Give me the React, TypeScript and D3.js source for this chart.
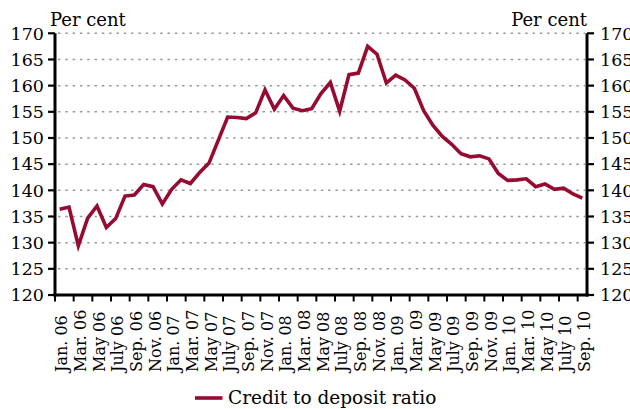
import React from "react";
import * as d3 from "d3";

// Monthly credit-to-deposit ratio, Jan. 2006 – Sep. 2010 (per cent)
const months: string[] = [
  "Jan. 06", "Feb. 06", "Mar. 06", "Apr. 06", "May 06", "June 06", "July 06", "Aug. 06", "Sep. 06", "Oct. 06", "Nov. 06", "Dec. 06",
  "Jan. 07", "Feb. 07", "Mar. 07", "Apr. 07", "May 07", "June 07", "July 07", "Aug. 07", "Sep. 07", "Oct. 07", "Nov. 07", "Dec. 07",
  "Jan. 08", "Feb. 08", "Mar. 08", "Apr. 08", "May 08", "June 08", "July 08", "Aug. 08", "Sep. 08", "Oct. 08", "Nov. 08", "Dec. 08",
  "Jan. 09", "Feb. 09", "Mar. 09", "Apr. 09", "May 09", "June 09", "July 09", "Aug. 09", "Sep. 09", "Oct. 09", "Nov. 09", "Dec. 09",
  "Jan. 10", "Feb. 10", "Mar. 10", "Apr. 10", "May 10", "June 10", "July 10", "Aug. 10", "Sep. 10",
];

const creditToDeposit: number[] = [
  136.4, 136.8, 129.4, 134.7, 137.0, 132.9, 134.6, 138.9, 139.1, 141.1, 140.7, 137.4,
  140.2, 142.0, 141.3, 143.4, 145.2, 149.6, 154.0, 153.9, 153.7, 154.8, 159.2, 155.5,
  158.1, 155.7, 155.2, 155.6, 158.5, 160.6, 155.1, 162.1, 162.4, 167.5, 166.0, 160.5,
  162.0, 161.1, 159.5, 155.2, 152.4, 150.3, 148.8, 147.0, 146.4, 146.6, 146.0, 143.2,
  141.9, 142.0, 142.2, 140.7, 141.2, 140.2, 140.4, 139.3, 138.5,
];

const yTicks: number[] = [120, 125, 130, 135, 140, 145, 150, 155, 160, 165, 170];
const unitLabel = "Per cent";
const seriesName = "Credit to deposit ratio";

const W = 630;
const H = 409;
const FONT = "'DejaVu Serif', serif";
const LINE_COLOR = "#960b31";

export default function App() {
  const left = 55;
  const right = 587;
  const top = 33.3;
  const bottom = 295;

  const x = d3.scaleBand<number>().domain(d3.range(months.length)).range([left, right]).padding(0);
  const y = d3.scaleLinear().domain([120, 170]).range([bottom, top]);
  const bw = x.bandwidth();

  const line = d3
    .line<number>()
    .x((_, i) => (x(i) as number) + bw / 2)
    .y((d) => y(d))
    .curve(d3.curveLinear);

  const labelIdx = d3.range(0, months.length, 2);
  const tickIdx = d3.range(0, months.length, 2);

  return (
    <svg
      width={W}
      height={H}
      viewBox={`0 0 ${W} ${H}`}
      style={{ position: "absolute", left: 0, top: 0, background: "#fff", overflow: "hidden" }}
      fontFamily={FONT}
    >
      <rect width={W} height={H} fill="#fff" />

      {/* dotted gridlines */}
      {yTicks.filter((t) => t > 120).map((t) => (
        <line
          key={`g${t}`}
          x1={left + 3}
          x2={right - 2}
          y1={y(t)}
          y2={y(t)}
          stroke="#9a9a9a"
          strokeWidth={1.5}
          strokeDasharray="2.5 4.8"
        />
      ))}

      {/* series */}
      <path
        d={line(creditToDeposit) || ""}
        fill="none"
        stroke={LINE_COLOR}
        strokeWidth={3.6}
        strokeLinejoin="miter"
        strokeLinecap="butt"
      />

      {/* left axis */}
      <line x1={left} x2={left} y1={top} y2={bottom + 1.5} stroke="#000" strokeWidth={3} />
      {yTicks.map((t) => (
        <g key={`l${t}`}>
          <line x1={left - 7} x2={left} y1={y(t)} y2={y(t)} stroke="#000" strokeWidth={2.2} />
          <text x={44} y={y(t)} dy="0.36em" textAnchor="end" fontSize={17.5} fill="#000">
            {t}
          </text>
        </g>
      ))}

      {/* right axis */}
      <line x1={right} x2={right} y1={top} y2={bottom + 1.5} stroke="#000" strokeWidth={3} />
      {yTicks.map((t) => (
        <g key={`r${t}`}>
          <line x1={right} x2={right + 7} y1={y(t)} y2={y(t)} stroke="#000" strokeWidth={2.2} />
          <text x={600} y={y(t)} dy="0.36em" textAnchor="start" fontSize={17.5} fill="#000">
            {t}
          </text>
        </g>
      ))}

      {/* bottom axis */}
      <line x1={left - 1.5} x2={right + 1.5} y1={bottom} y2={bottom} stroke="#000" strokeWidth={3} />
      {tickIdx.map((i) => (
        <line
          key={`xt${i}`}
          x1={x(i) as number}
          x2={x(i) as number}
          y1={bottom}
          y2={bottom + 6.5}
          stroke="#000"
          strokeWidth={2}
        />
      ))}
      {labelIdx.map((i) => {
        const cx = (x(i) as number) + bw / 2 + 1.8;
        const cy = 372;
        return (
          <text
            key={`xl${i}`}
            transform={`translate(${cx},${cy}) rotate(-90)`}
            dy="0.36em"
            textAnchor="start"
            fontSize={16}
            fill="#000"
          >
            {months[i]}
          </text>
        );
      })}

      {/* unit labels */}
      <text x={50} y={26} fontSize={18} fill="#000">
        {unitLabel}
      </text>
      <text x={587} y={26} fontSize={18} textAnchor="end" fill="#000">
        {unitLabel}
      </text>

      {/* legend */}
      <line x1={195} x2={222.5} y1={398} y2={398} stroke={LINE_COLOR} strokeWidth={3.6} />
      <text x={228} y={404} fontSize={18.5} fill="#000">
        {seriesName}
      </text>
    </svg>
  );
}
